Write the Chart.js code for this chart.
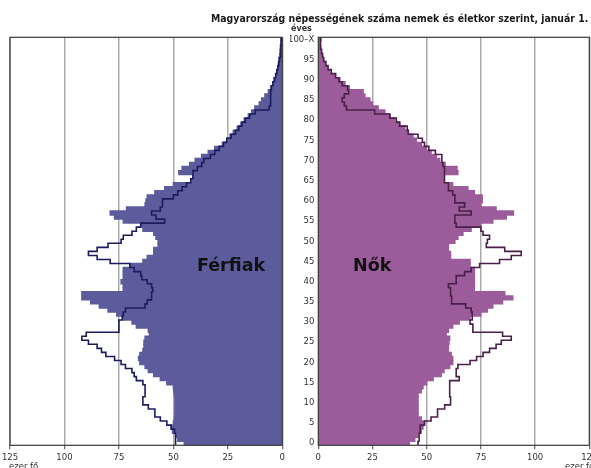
<!DOCTYPE html>
<html><head><meta charset="utf-8">
<script src="https://cdn.jsdelivr.net/npm/chart.js@4.4.0/dist/chart.umd.min.js"></script>
<style>
html,body{margin:0;padding:0;background:#fff;overflow:hidden;width:591px;height:468px;position:relative;}
canvas{position:absolute;top:0;}
.t{position:absolute;white-space:nowrap;font-family:"DejaVu Sans",Verdana,sans-serif;color:#1a1a1a;z-index:5;line-height:1;}
</style></head><body>
<canvas id="cl" width="300" height="468" style="left:0px"></canvas>
<canvas id="cr" width="320" height="468" style="left:290px"></canvas>
<div class="t" id="title" style="right:3px;top:13px;font-weight:bold;font-size:10.5px;">Magyarország népességének száma nemek és életkor szerint, január 1.</div>
<div class="t" style="left:291px;top:25px;font-weight:bold;font-size:8px;color:#333">éves</div>
<div class="t" style="left:197px;top:257px;font-weight:bold;font-size:17.5px;color:#111">Férfiak</div>
<div class="t" style="left:353px;top:257px;font-weight:bold;font-size:17.5px;color:#111">Nők</div>
<div class="t" style="left:9px;top:462px;font-size:8.5px;color:#333">ezer fő</div>
<div class="t" style="left:565px;top:462px;font-size:8.5px;color:#333">ezer fő</div>
<script>
// Age groups (0 ... 100 and over)
const ages = [0,1,2,3,4,5,6,7,8,9,10,11,12,13,14,15,16,17,18,19,20,21,22,23,24,25,26,27,28,29,30,31,32,33,34,35,36,37,38,39,40,41,42,43,44,45,46,47,48,49,50,51,52,53,54,55,56,57,58,59,60,61,62,63,64,65,66,67,68,69,70,71,72,73,74,75,76,77,78,79,80,81,82,83,84,85,86,87,88,89,90,91,92,93,94,95,96,97,98,99,100];
const ageTickValues = [0,5,10,15,20,25,30,35,40,45,50,55,60,65,70,75,80,85,90,95,100];
const ageTickLabels = ["0","5","10","15","20","25","30","35","40","45","50","55","60","65","70","75","80","85","90","95","100–X"];
const valueTicks = [0,25,50,75,100,125];

// Males, current year (bars), thousand persons
const maleBars = [45,48,48.5,50.4,51,50,49.5,49.3,49.3,49.3,
  49.3,49.3,49.5,49.8,50,53,56,59,61.5,63,
  65.4,66,65.4,64,63.5,63.5,63,61,61.5,67,
  69,73,76,80,84,88,92,92,73,73,
  74,73,73,73,70,64,62,59,59,57,
  57,58,59,64,64.6,73,77,79,71.5,63,
  62.6,62,58.5,54,50,41.5,41,47.5,46,42.5,
  40,37,34,31,27.5,25.5,24,22.5,20.7,19,
  17.5,15.6,14.1,12.6,10.6,9.5,8,6.4,5.2,4.4,
  3.8,3.1,2.6,2.1,1.8,1.5,1.2,1.0,0.8,0.6,0.6];
// Males, comparison year (outline)
const maleOutline = [49,49,49,49.5,51,53,56,58.5,58.5,61.5,
  64,64,63,63,63,64,67,68,69,72,
  74,77,81,83,85,89,92,90,75,75,
  75,73.5,73,72,63,62,60,60,59.5,60,
  62,64.5,65,68,70,79,85,89,85,80,
  74,73,69,67,65,54,58,60,56,55,
  55,50,48,46,44,42,41,41,39,37,
  36,33,31,29,27,25.5,23.5,21.5,20,18.5,
  17,15,12.5,6,5.5,5.5,5.3,5.2,5,4.3,
  3.6,3,2.5,2,1.6,1.3,1,0.8,0.6,0.5,0.5];
// Females, current year (bars)
const femaleBars = [42,44.5,46,47.5,48.3,49,47.5,46,46,46,
  46,46,46,47.5,48.3,50,53,56.7,58,60.6,
  62,62,61.3,60,60,60.3,60.6,59,60,62,
  65,70,75,78,80.5,85,89.7,86,72,72,
  72,72,72,72,70,70,61,61,60,60,
  63,64.4,66.7,70.5,75,80.5,86.7,90,82,75,
  75.6,75.6,72,69,62,58,58,64.4,64,58.5,
  56,54.4,52,49.8,47.5,45.2,43.7,41.4,39.9,37.6,
  35.3,33,30.7,27.6,25,23.8,21.5,20.7,14.3,12.3,
  10,7.7,5.4,4.1,3,2.3,1.8,1.4,1.1,0.8,1.2];
// Females, comparison year (outline)
const femaleOutline = [46,46.5,46.5,47,47,49,52,55,55,58.3,
  61,61,60.6,60.6,60.6,60.6,65,63.6,63.6,64.4,
  70,73,76,79,82,84.4,89,85,71.3,71.3,
  70,71,71,70.5,68,61.5,61.5,61,61,60,
  63.6,63.6,67.5,70.5,74.4,83.6,89,93.6,86,77.5,
  78,79,76,75,63.6,63,63,70.5,65,67.5,
  63,63,62,60,60,58.3,58.3,58.3,58,57.5,
  57,57,54,51,49,48,46,41.5,41,37.5,
  36,33,26,13,12,11,12,14,13.5,11,
  9.5,8,6,4.5,3.5,2.5,2,1.5,1.2,1,1];

const FONT = '"DejaVu Sans", Verdana, sans-serif';
const PLOT_TOP = 37.3, AXIS_H = 22.7;

const framePlugin = {
  id: 'frame',
  afterDraw(chart) {
    const a = chart.chartArea, c = chart.ctx;
    c.save();
    c.strokeStyle = '#3a3a3a';
    c.lineWidth = 1.2;
    c.strokeRect(a.left, a.top, a.right - a.left, a.bottom - a.top);
    c.restore();
  }
};

function makeChart(id, bars, outline, barColor, lineColor, isLeft) {
  const barData = ages.map((a, i) => ({x: bars[i], y: a}));
  const lineData = [];
  ages.forEach((a, i) => {
    lineData.push({x: outline[i], y: a - 0.5});
    lineData.push({x: outline[i], y: a + 0.5});
  });
  return new Chart(document.getElementById(id), {
    type: 'bar',
    data: {
      datasets: [
        {type: 'line', data: lineData, borderColor: lineColor, borderWidth: 1.6,
         pointRadius: 0, fill: false, tension: 0, order: 0},
        {type: 'bar', data: barData, backgroundColor: barColor, borderWidth: 0,
         barPercentage: 1, categoryPercentage: 1, inflateAmount: 0.7, order: 1}
      ]
    },
    options: {
      indexAxis: 'y',
      responsive: false,
      animation: false,
      events: [],
      layout: {padding: isLeft ? {left: 10, right: 17.7, top: PLOT_TOP, bottom: 0}
                                : {left: 0, right: 20.7, top: PLOT_TOP, bottom: 0}},
      plugins: {legend: {display: false}, tooltip: {enabled: false}},
      scales: {
        x: {
          type: 'linear', min: 0, max: 125, reverse: isLeft, z: 1,
          afterBuildTicks: s => { s.ticks = valueTicks.map(v => ({value: v})); },
          afterFit: s => { s.height = AXIS_H; },
          ticks: {font: {family: FONT, size: 8.5}, color: '#333', padding: 3, autoSkip: false, maxRotation: 0},
          grid: {color: '#ababab', lineWidth: 1.5, tickLength: 4, tickColor: '#444', tickWidth: 1},
          border: {display: false}
        },
        y: {
          type: 'linear', min: -0.5, max: 100.5, offset: false,
          display: !isLeft,
          position: 'left',
          afterBuildTicks: s => { s.ticks = ageTickValues.map(v => ({value: v})); },
          afterFit: s => { s.width = isLeft ? 0 : 28.3; },
          ticks: {font: {family: FONT, size: 8.5}, color: '#333', padding: 4, autoSkip: false,
                  callback: (v, i) => ageTickLabels[i]},
          grid: {display: false, offset: false, drawTicks: false},
          border: {display: false}
        }
      }
    },
    plugins: [framePlugin]
  });
}

makeChart('cl', maleBars, maleOutline, '#5c5c9c', '#1b1b5e', true);
makeChart('cr', femaleBars, femaleOutline, '#9c5c9c', '#4a1f4a', false);

// fit title width to the reference span
const t = document.getElementById('title');
const w = t.offsetWidth;
t.style.transformOrigin = 'right center';
t.style.transform = 'scaleX(' + (377 / w) + ')';
</script>
</body></html>
